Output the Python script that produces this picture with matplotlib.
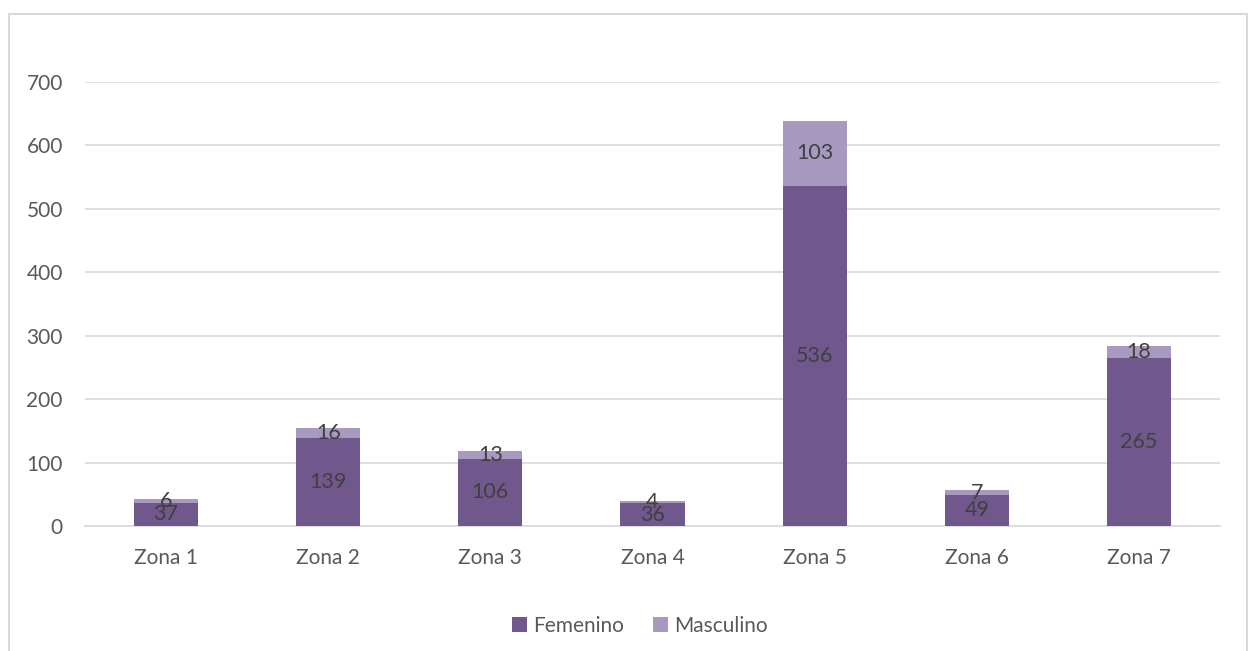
import matplotlib.pyplot as plt
from matplotlib.patches import Rectangle
import numpy as np

zonas = ['Zona 1', 'Zona 2', 'Zona 3', 'Zona 4', 'Zona 5', 'Zona 6', 'Zona 7']
femenino = [37, 139, 106, 36, 536, 49, 265]
masculino = [6, 16, 13, 4, 103, 7, 18]

plt.rcParams['font.family'] = ['Lato', 'DejaVu Sans']

fig = plt.figure(figsize=(12.52, 6.51), dpi=100)
ax = fig.add_axes([85 / 1252, 1 - 526 / 651, 1135 / 1252, 444 / 651])

# chart border like the Excel chart area
fig.patches.append(Rectangle((9 / 1252, -0.05), 1238 / 1252, 1 - 14 / 651 + 0.05,
                             transform=fig.transFigure, fill=False,
                             edgecolor='#d9d9d9', linewidth=1.5))

x = np.arange(len(zonas))
w = 0.395
b1 = ax.bar(x, femenino, w, color='#70588d', label='Femenino', zorder=3)
b2 = ax.bar(x, masculino, w, bottom=femenino, color='#a899bf', label='Masculino', zorder=3)

for i in range(len(zonas)):
    ax.text(x[i], femenino[i] / 2, str(femenino[i]), ha='center', va='center',
            fontsize=15.5, color='#404040', zorder=4)
    ax.text(x[i], femenino[i] + masculino[i] / 2, str(masculino[i]), ha='center', va='center',
            fontsize=15.5, color='#404040', zorder=4)

ax.set_xlim(-0.5, len(zonas) - 0.5)
ax.set_ylim(0, 700)
ax.set_yticks(range(0, 701, 100))
ax.set_xticks(x)
ax.set_xticklabels(zonas)
ax.grid(axis='y', color='#d9d9d9', linewidth=1.2, zorder=0)
for s in ['top', 'right', 'left']:
    ax.spines[s].set_visible(False)
ax.spines['bottom'].set_color('#d9d9d9')
ax.spines['bottom'].set_linewidth(1.2)
ax.tick_params(axis='both', length=0, labelsize=15, labelcolor='#595959')
ax.tick_params(axis='x', pad=16)
ax.tick_params(axis='y', pad=16)

fig.legend(handles=[b1, b2], loc='center', bbox_to_anchor=(640 / 1252, 1 - 626 / 651),
           ncol=2, frameon=False, fontsize=15, labelcolor='#595959',
           handlelength=0.7, handleheight=0.7, handletextpad=0.3, columnspacing=1.4)

fig.savefig('out.png', dpi=100, facecolor='white')
